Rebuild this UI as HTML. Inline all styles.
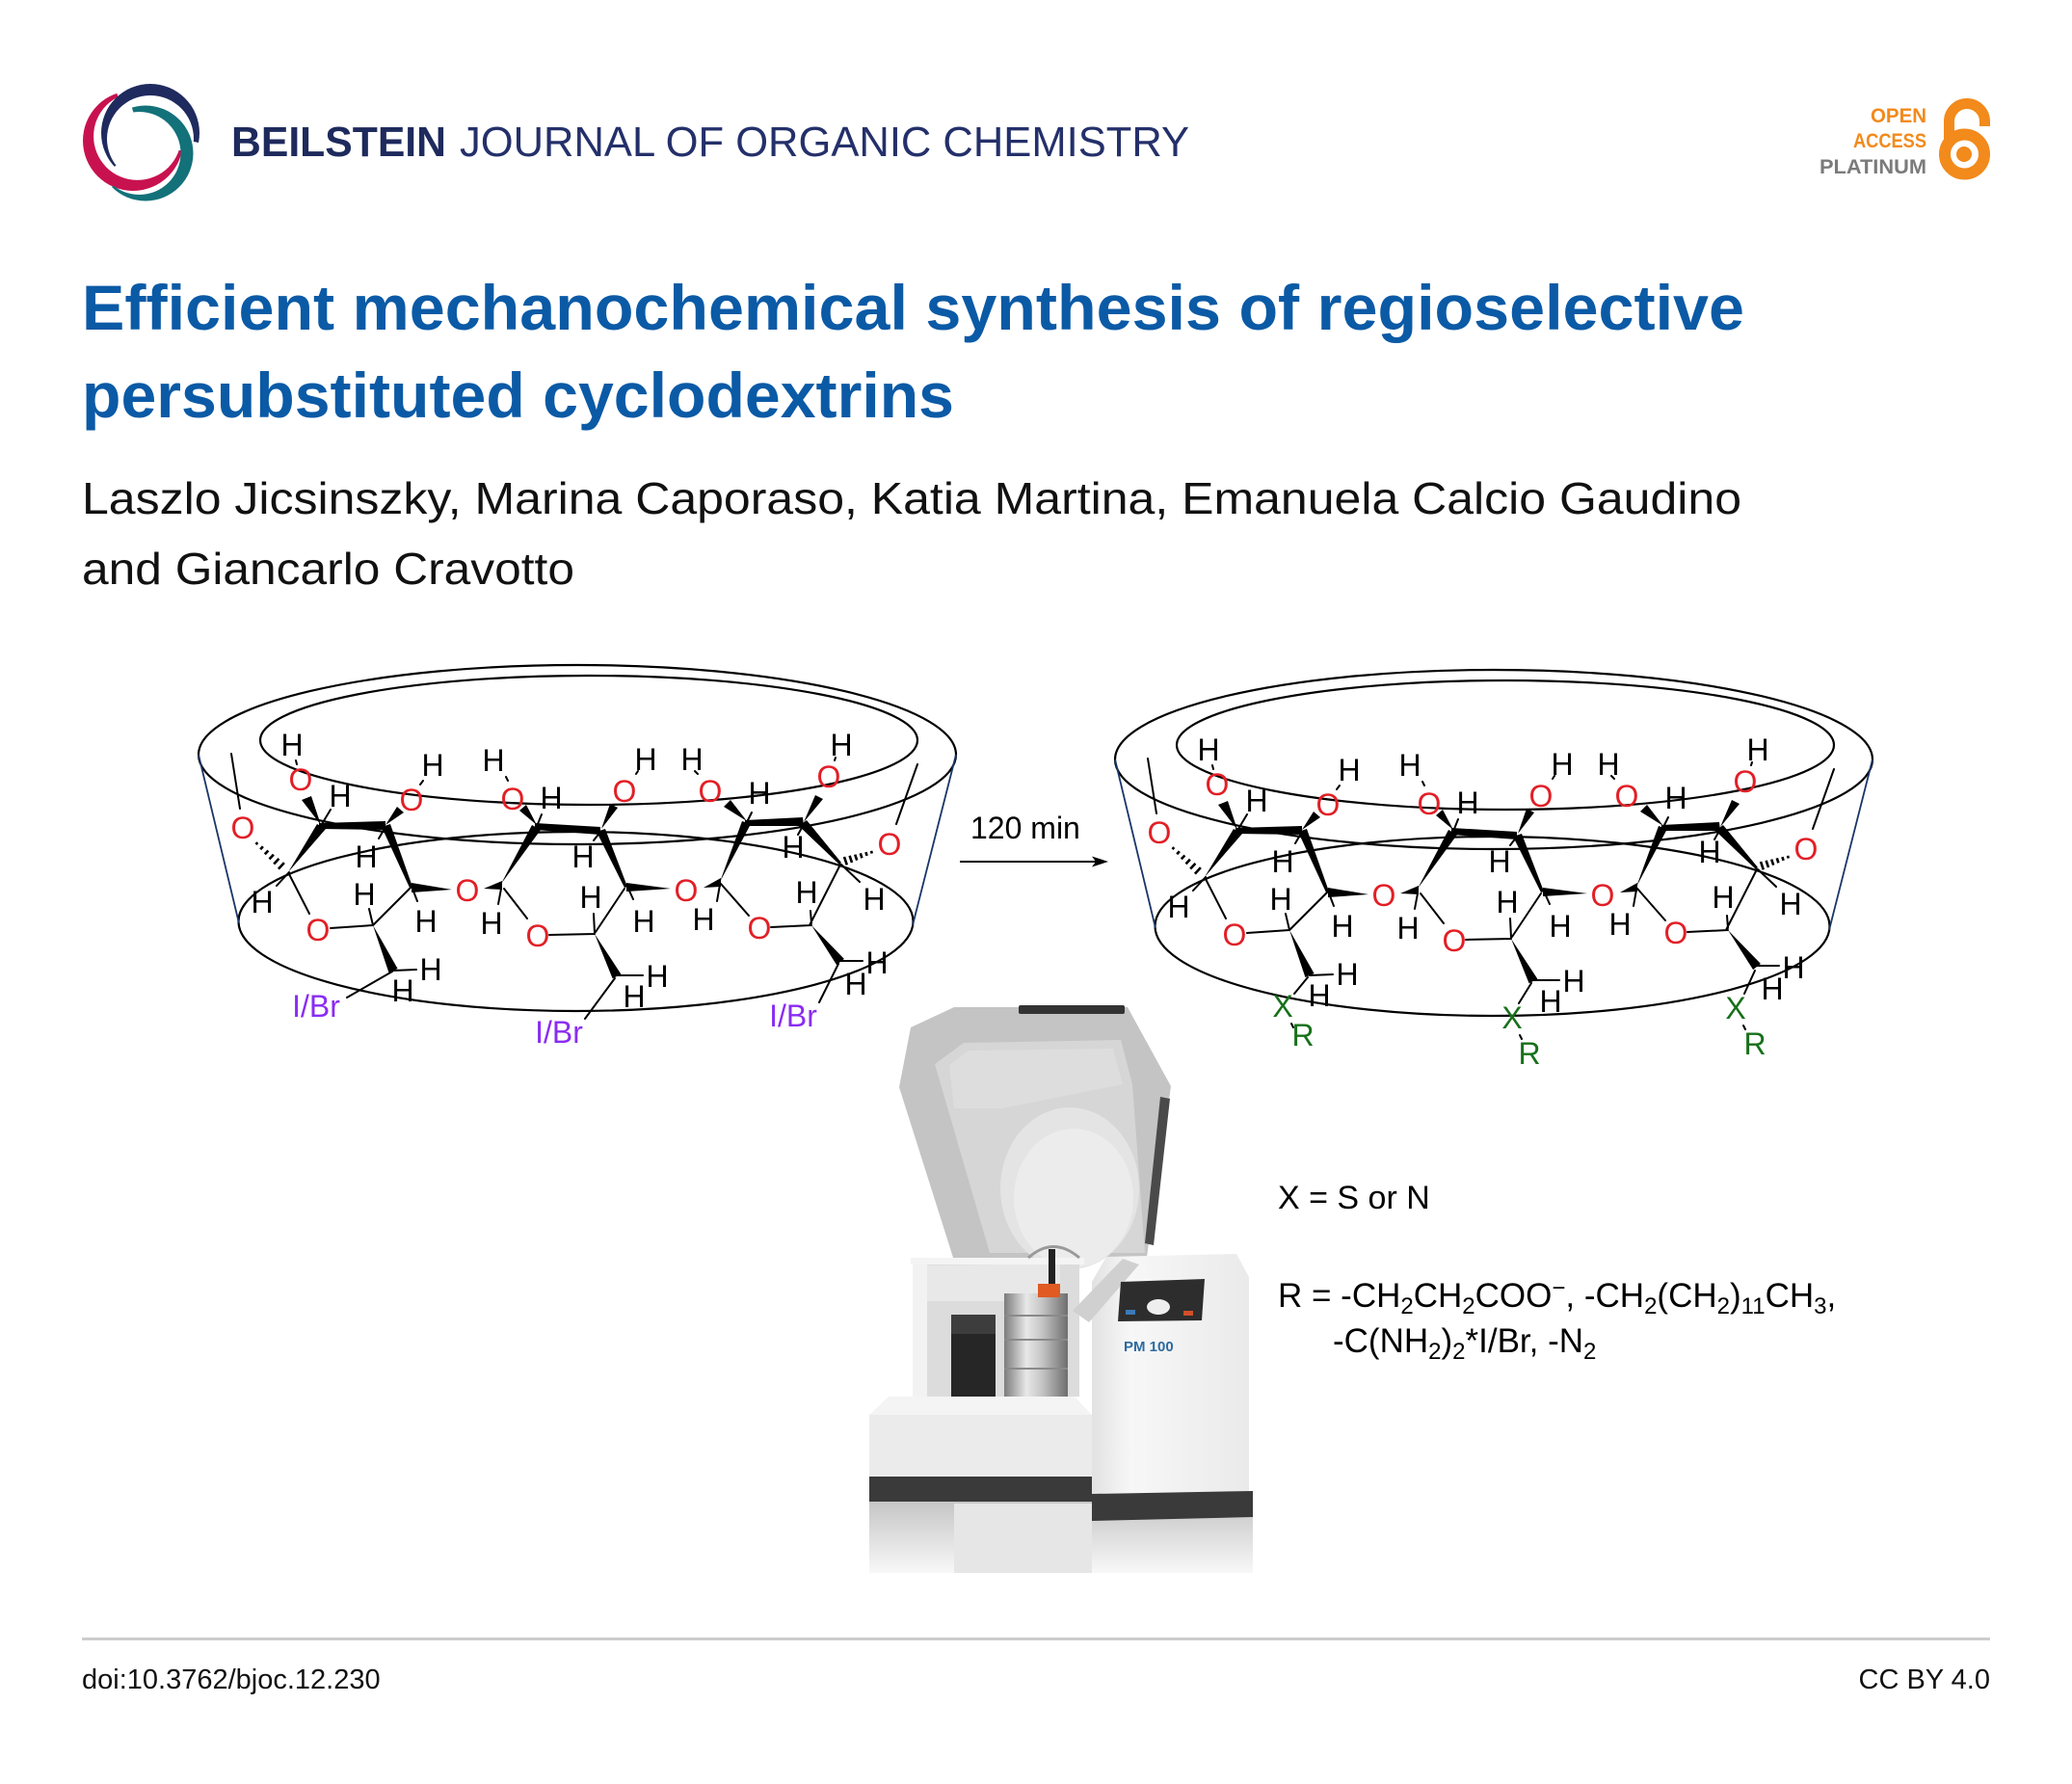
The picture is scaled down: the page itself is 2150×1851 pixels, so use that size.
<!DOCTYPE html>
<html>
<head>
<meta charset="utf-8">
<style>
html,body{margin:0;padding:0;background:#fff;}
svg{display:block;}
.t{font-family:"Liberation Sans",Arial,sans-serif;}
.h{font-family:"Liberation Sans",Arial,sans-serif;font-size:32px;text-anchor:middle;fill:#000;}
.o{font-family:"Liberation Sans",Arial,sans-serif;font-size:32px;text-anchor:middle;fill:#e21f26;}
.ib{font-family:"Liberation Sans",Arial,sans-serif;font-size:32px;text-anchor:middle;fill:#8a2cf2;}
.g{font-family:"Liberation Sans",Arial,sans-serif;font-size:32px;text-anchor:middle;fill:#17701a;}
.b{stroke:#000;stroke-width:2;fill:none;stroke-linecap:round;}
.hs{stroke:#000;stroke-width:2.6;fill:none;}
.el{stroke:#000;stroke-width:2.2;fill:none;}
.sd{stroke:#1a3668;stroke-width:1.8;fill:none;}
</style>
</head>
<body>
<svg width="2150" height="1851" viewBox="0 0 2150 1851" xmlns="http://www.w3.org/2000/svg">
<defs>
<clipPath id="cNavy"><polygon points="156,138 54,234 30,234 30,10 290,10 290,163 281,163"/></clipPath>
<clipPath id="cRed"><polygon points="138,146 84,-13 0,-13 0,290 290,290 270,173"/></clipPath>
<clipPath id="cTeal"><polygon points="151,159 109,18 300,18 300,300 37,273"/></clipPath>
<linearGradient id="jar" x1="0" x2="1" y1="0" y2="0">
<stop offset="0" stop-color="#7c7c7c"/><stop offset="0.35" stop-color="#e8e8e8"/><stop offset="0.6" stop-color="#c4c4c4"/><stop offset="1" stop-color="#6e6e6e"/>
</linearGradient>
<linearGradient id="refl" x1="0" x2="0" y1="0" y2="1">
<stop offset="0" stop-color="#c4c4c4"/><stop offset="1" stop-color="#f8f8f8"/>
</linearGradient>
<linearGradient id="cons" x1="0" x2="1" y1="0" y2="0">
<stop offset="0" stop-color="#e2e2e2"/><stop offset="0.25" stop-color="#f7f7f7"/><stop offset="1" stop-color="#eaeaea"/>
</linearGradient>
</defs>
<rect width="2150" height="1851" fill="#fff"/>

<!-- Logo -->
<path clip-path="url(#cRed)" fill="#c8124f" fill-rule="evenodd" d="M86,146 a52,52 0 1 0 104,0 a52,52 0 1 0 -104,0 Z M97.1,141.4 a45.5,45.5 0 1 0 91,0 a45.5,45.5 0 1 0 -91,0 Z"/>
<path clip-path="url(#cTeal)" fill="#13717a" fill-rule="evenodd" d="M101.5,159 a49.5,49.5 0 1 0 99,0 a49.5,49.5 0 1 0 -99,0 Z M101.5,159 a43,43 0 1 0 86,0 a43,43 0 1 0 -86,0 Z"/>
<path clip-path="url(#cNavy)" fill="#1f2a5e" fill-rule="evenodd" d="M105,138 a51,51 0 1 0 102,0 a51,51 0 1 0 -102,0 Z M111,144 a45,45 0 1 0 90,0 a45,45 0 1 0 -90,0 Z"/>

<!-- Journal name -->
<text class="t" x="240" y="162" font-size="44" font-weight="bold" fill="#1e2a5c" textLength="223" lengthAdjust="spacingAndGlyphs">BEILSTEIN</text>
<text class="t" x="477" y="162" font-size="44" fill="#24306a" textLength="757" lengthAdjust="spacingAndGlyphs">JOURNAL OF ORGANIC CHEMISTRY</text>

<!-- Open access badge -->
<text class="t" x="1999" y="127" font-size="21" font-weight="bold" fill="#f28a1c" text-anchor="end" textLength="58" lengthAdjust="spacingAndGlyphs">OPEN</text>
<text class="t" x="1999" y="153" font-size="21" font-weight="bold" fill="#f28a1c" text-anchor="end" textLength="76" lengthAdjust="spacingAndGlyphs">ACCESS</text>
<text class="t" x="1999" y="180" font-size="21" font-weight="bold" fill="#7b7b7b" text-anchor="end" textLength="111" lengthAdjust="spacingAndGlyphs">PLATINUM</text>
<path d="M2022.5,150 V126 A18.5,18.5 0 0 1 2059.5,126 V131" stroke="#f28a1c" stroke-width="11" fill="none"/>
<circle cx="2038.5" cy="160" r="20.5" stroke="#f28a1c" stroke-width="12" fill="none"/>
<circle cx="2038" cy="160" r="8" fill="#f28a1c"/>

<!-- Title -->
<text class="t" x="85" y="342" font-size="66" font-weight="bold" fill="#0b5aa6" textLength="1725" lengthAdjust="spacingAndGlyphs">Efficient mechanochemical synthesis of regioselective</text>
<text class="t" x="85" y="433" font-size="66" font-weight="bold" fill="#0b5aa6" textLength="905" lengthAdjust="spacingAndGlyphs">persubstituted cyclodextrins</text>

<!-- Authors -->
<text class="t" x="85" y="533" font-size="46" fill="#111" textLength="1722" lengthAdjust="spacingAndGlyphs">Laszlo Jicsinszky, Marina Caporaso, Katia Martina, Emanuela Calcio Gaudino</text>
<text class="t" x="85" y="606" font-size="46" fill="#111" textLength="511" lengthAdjust="spacingAndGlyphs">and Giancarlo Cravotto</text>

<!-- ===================== LEFT MOLECULE ===================== -->
<g id="mol1">
<ellipse class="el" cx="599" cy="783" rx="393" ry="93"/>
<ellipse class="el" cx="611" cy="768" rx="341" ry="67"/>
<ellipse class="el" cx="597.5" cy="956" rx="350" ry="93"/>
<path class="sd" d="M206,783 L248,958 M992,783 L947,960"/>
<path class="b" stroke-width="1.5" d="M240,782 L249,839 M930,855 L952,793"/>
<path class="b" d="M300,905 L287,919 M300,907 L321,948 M343,963 L387,960 M387,960 L383,943 M408,1007 L432,1006 M387,960 L427,920 M428,922 L433,935 M334,855 L343,840 M400,858 L393,870
M520,922 L517,938 M523,922 L547,953 M570,970 L617,969 M617,968 L616,948 M640,1012 L667,1012 M618,967 L648,922 M652,922 L657,933 M558,855 L562,845 M623,863 L616,872
M747,918 L744,935 M748,917 L777,950 M800,962 L842,960 M842,958 L841,945 M872,997 L895,997 M840,960 L872,897 M873,897 L892,915 M776,851 L780,843 M833,857 L828,866
M307,789 L308,793 M436,814 L439,810 M527,810 L525,806 M660,803 L662,800 M724,803 L721,800 M866,789 L867,786"/>
<path class="hs" d="M265.5,876.1 L267.3,874.1 M270.2,881.3 L272.9,878.3 M274.8,886.3 L278.4,882.5 M279.5,891.4 L283.9,886.7 M284.2,896.5 L289.4,890.9 M288.9,901.6 L294.9,895.1"/>
<path class="hs" d="M904.8,885.5 L904,882.9 M899.6,887.9 L898.4,884.1 M894.4,890.3 L892.8,885.3 M889.2,892.6 L887.2,886.6 M884,895 L881.6,887.8 M878.8,897.4 L876,889"/>
<g fill="#000">
<polygon points="387,960 412.6,1005 403.4,1009"/>
<polygon points="617,969 644.4,1010.7 635.6,1015.3"/>
<polygon points="842,960 875.9,994.9 868.1,1001.1"/>
<polygon points="427,916 427,926 469,923"/>
<polygon points="650,916 650,925 696,922"/>
<polygon points="502,922 521,914 521,923"/>
<polygon points="730,921 748,911 748,920"/>
<polygon points="299,905 329,855 338,860"/>
<polygon points="520,917 552,856 561,861"/>
<polygon points="747,915 770,852 779,855"/>
<polygon points="331,854 400,852 400,861 331,860"/>
<polygon points="555,854 623,858 623,866 555,861"/>
<polygon points="773,851 833,848 834,857 773,857"/>
<polygon points="396,858 405,855 428,920 425,921"/>
<polygon points="619,863 628,860 651,920 648,921"/>
<polygon points="829,857 837,851 873,895 871,897"/>
<polygon points="333,856 313,830 323,826"/>
<polygon points="557,856 539,841 546,835"/>
<polygon points="775,852 751,837 758,830"/>
<polygon points="400,856 412,837 419,843"/>
<polygon points="624,860 633,834 641,838"/>
<polygon points="834,853 846,825 854,829"/>
</g>
<text class="o" x="252" y="870">O</text>
<text class="o" x="312" y="820">O</text>
<text class="o" x="427" y="841">O</text>
<text class="o" x="485" y="935">O</text>
<text class="o" x="330" y="976">O</text>
<text class="o" x="532" y="840">O</text>
<text class="o" x="648" y="832">O</text>
<text class="o" x="712" y="935">O</text>
<text class="o" x="558" y="982">O</text>
<text class="o" x="737" y="832">O</text>
<text class="o" x="860" y="817">O</text>
<text class="o" x="788" y="974">O</text>
<text class="o" x="923" y="887">O</text>
<text class="h" x="303" y="784">H</text>
<text class="h" x="353" y="837">H</text>
<text class="h" x="380" y="900">H</text>
<text class="h" x="442" y="967">H</text>
<text class="h" x="272" y="947">H</text>
<text class="h" x="378" y="939">H</text>
<text class="h" x="447" y="1017">H</text>
<text class="h" x="418" y="1039">H</text>
<text class="h" x="449" y="805">H</text>
<text class="h" x="512" y="800">H</text>
<text class="h" x="572" y="839">H</text>
<text class="h" x="605" y="900">H</text>
<text class="h" x="668" y="967">H</text>
<text class="h" x="510" y="969">H</text>
<text class="h" x="613" y="942">H</text>
<text class="h" x="682" y="1024">H</text>
<text class="h" x="658" y="1045">H</text>
<text class="h" x="670" y="799">H</text>
<text class="h" x="718" y="799">H</text>
<text class="h" x="788" y="834">H</text>
<text class="h" x="823" y="890">H</text>
<text class="h" x="907" y="944">H</text>
<text class="h" x="730" y="965">H</text>
<text class="h" x="837" y="937">H</text>
<text class="h" x="910" y="1010">H</text>
<text class="h" x="888" y="1032">H</text>
<text class="h" x="873" y="784">H</text>
<path class="b" d="M407,1008 L360,1035 M638,1015 L607,1057 M870,1000 L850,1040"/>
<text class="ib" x="328" y="1055">I/Br</text>
<text class="ib" x="580" y="1082">I/Br</text>
<text class="ib" x="823" y="1065">I/Br</text>
</g>

<!-- Arrow -->
<text class="t" x="1007" y="870" font-size="32" fill="#000">120 min</text>
<line x1="996" y1="894" x2="1140" y2="894" stroke="#000" stroke-width="2"/>
<polygon points="1150,894 1133,888.5 1137,894 1133,899.5" fill="#000"/>

<!-- ===================== RIGHT MOLECULE ===================== -->
<g transform="translate(951,5)">
<ellipse class="el" cx="599" cy="783" rx="393" ry="93"/>
<ellipse class="el" cx="611" cy="768" rx="341" ry="67"/>
<ellipse class="el" cx="597.5" cy="956" rx="350" ry="93"/>
<path class="sd" d="M206,783 L248,958 M992,783 L947,960"/>
<path class="b" stroke-width="1.5" d="M240,782 L249,839 M930,855 L952,793"/>
<path class="b" d="M300,905 L287,919 M300,907 L321,948 M343,963 L387,960 M387,960 L383,943 M408,1007 L432,1006 M387,960 L427,920 M428,922 L433,935 M334,855 L343,840 M400,858 L393,870
M520,922 L517,938 M523,922 L547,953 M570,970 L617,969 M617,968 L616,948 M640,1012 L667,1012 M618,967 L648,922 M652,922 L657,933 M558,855 L562,845 M623,863 L616,872
M747,918 L744,935 M748,917 L777,950 M800,962 L842,960 M842,958 L841,945 M872,997 L895,997 M840,960 L872,897 M873,897 L892,915 M776,851 L780,843 M833,857 L828,866
M307,789 L308,793 M436,814 L439,810 M527,810 L525,806 M660,803 L662,800 M724,803 L721,800 M866,789 L867,786"/>
<path class="hs" d="M265.5,876.1 L267.3,874.1 M270.2,881.3 L272.9,878.3 M274.8,886.3 L278.4,882.5 M279.5,891.4 L283.9,886.7 M284.2,896.5 L289.4,890.9 M288.9,901.6 L294.9,895.1"/>
<path class="hs" d="M904.8,885.5 L904,882.9 M899.6,887.9 L898.4,884.1 M894.4,890.3 L892.8,885.3 M889.2,892.6 L887.2,886.6 M884,895 L881.6,887.8 M878.8,897.4 L876,889"/>
<g fill="#000">
<polygon points="387,960 412.6,1005 403.4,1009"/>
<polygon points="617,969 644.4,1010.7 635.6,1015.3"/>
<polygon points="842,960 875.9,994.9 868.1,1001.1"/>
<polygon points="427,916 427,926 469,923"/>
<polygon points="650,916 650,925 696,922"/>
<polygon points="502,922 521,914 521,923"/>
<polygon points="730,921 748,911 748,920"/>
<polygon points="299,905 329,855 338,860"/>
<polygon points="520,917 552,856 561,861"/>
<polygon points="747,915 770,852 779,855"/>
<polygon points="331,854 400,852 400,861 331,860"/>
<polygon points="555,854 623,858 623,866 555,861"/>
<polygon points="773,851 833,848 834,857 773,857"/>
<polygon points="396,858 405,855 428,920 425,921"/>
<polygon points="619,863 628,860 651,920 648,921"/>
<polygon points="829,857 837,851 873,895 871,897"/>
<polygon points="333,856 313,830 323,826"/>
<polygon points="557,856 539,841 546,835"/>
<polygon points="775,852 751,837 758,830"/>
<polygon points="400,856 412,837 419,843"/>
<polygon points="624,860 633,834 641,838"/>
<polygon points="834,853 846,825 854,829"/>
</g>
<text class="o" x="252" y="870">O</text>
<text class="o" x="312" y="820">O</text>
<text class="o" x="427" y="841">O</text>
<text class="o" x="485" y="935">O</text>
<text class="o" x="330" y="976">O</text>
<text class="o" x="532" y="840">O</text>
<text class="o" x="648" y="832">O</text>
<text class="o" x="712" y="935">O</text>
<text class="o" x="558" y="982">O</text>
<text class="o" x="737" y="832">O</text>
<text class="o" x="860" y="817">O</text>
<text class="o" x="788" y="974">O</text>
<text class="o" x="923" y="887">O</text>
<text class="h" x="303" y="784">H</text>
<text class="h" x="353" y="837">H</text>
<text class="h" x="380" y="900">H</text>
<text class="h" x="442" y="967">H</text>
<text class="h" x="272" y="947">H</text>
<text class="h" x="378" y="939">H</text>
<text class="h" x="447" y="1017">H</text>
<text class="h" x="418" y="1039">H</text>
<text class="h" x="449" y="805">H</text>
<text class="h" x="512" y="800">H</text>
<text class="h" x="572" y="839">H</text>
<text class="h" x="605" y="900">H</text>
<text class="h" x="668" y="967">H</text>
<text class="h" x="510" y="969">H</text>
<text class="h" x="613" y="942">H</text>
<text class="h" x="682" y="1024">H</text>
<text class="h" x="658" y="1045">H</text>
<text class="h" x="670" y="799">H</text>
<text class="h" x="718" y="799">H</text>
<text class="h" x="788" y="834">H</text>
<text class="h" x="823" y="890">H</text>
<text class="h" x="907" y="944">H</text>
<text class="h" x="730" y="965">H</text>
<text class="h" x="837" y="937">H</text>
<text class="h" x="910" y="1010">H</text>
<text class="h" x="888" y="1032">H</text>
<text class="h" x="873" y="784">H</text>
<path class="b" d="M406,1009 L392,1026 M638,1015 L625,1036 M870,1002 L859,1026"/>
<path class="b" stroke-width="1.4" d="M389,1057 L391,1061 M626,1069 L628,1073 M858,1059 L860,1063"/>
<text class="g" x="380" y="1050">X</text>
<text class="g" x="401" y="1080">R</text>
<text class="g" x="618" y="1062">X</text>
<text class="g" x="636" y="1099">R</text>
<text class="g" x="850" y="1052">X</text>
<text class="g" x="870" y="1089">R</text>
</g>

<!-- ===================== MILL ===================== -->
<!-- lid -->
<polygon fill="#c4c4c4" points="933,1128 945,1066 990,1045 1170,1045 1215,1127 1190,1304 990,1308"/>
<polygon fill="#d6d6d6" points="970,1104 1000,1082 1163,1079 1175,1125 1188,1300 1027,1300"/>
<polygon fill="#dddddd" points="985,1105 1005,1090 1155,1088 1165,1125 1040,1150 990,1150"/>
<ellipse cx="1110" cy="1233" rx="72" ry="84" fill="#e4e4e4"/>
<ellipse cx="1114" cy="1243" rx="62" ry="72" fill="#ececec"/>
<rect x="1057" y="1043" width="110" height="9" rx="2" fill="#333"/>
<polygon fill="#4a4a4a" points="1204,1138 1214,1140 1197,1292 1188,1290"/>
<!-- chamber -->
<polygon fill="#dcdcdc" points="947,1311 1120,1308 1120,1449 947,1449"/>
<polygon fill="#e8e8e8" points="962,1313 1100,1311 1100,1350 962,1350"/>
<rect x="947" y="1311" width="15" height="138" fill="#f2f2f2"/>
<rect x="945" y="1305" width="180" height="7" fill="#f4f4f4"/>
<!-- contents -->
<ellipse cx="1045" cy="1458" rx="66" ry="9" fill="#222"/>
<rect x="987" y="1364" width="46" height="96" fill="#262626"/>
<rect x="987" y="1364" width="46" height="20" fill="#3d3d3d"/>
<rect x="1042" y="1342" width="66" height="114" fill="url(#jar)"/>
<path d="M1042,1365 H1108 M1042,1390 H1108 M1042,1420 H1108" stroke="#8a8a8a" stroke-width="2"/>
<rect x="1077" y="1332" width="23" height="14" fill="#e05a22"/>
<rect x="1088" y="1296" width="7" height="36" fill="#222"/>
<path d="M1067,1305 Q1093,1282 1120,1305" stroke="#9a9a9a" stroke-width="3" fill="none"/>
<!-- front base -->
<polygon fill="#f4f4f4" points="902,1468 922,1449 1115,1449 1133,1468"/>
<rect x="902" y="1468" width="231" height="64" fill="#ebebeb"/>
<!-- console -->
<polygon fill="url(#cons)" points="1133,1330 1148,1304 1283,1301 1296,1325 1296,1548 1133,1552"/>
<polygon fill="#d0d0d0" points="1113,1360 1165,1306 1182,1312 1130,1372"/>
<polygon fill="#2d2d2d" points="1163,1330 1250,1327 1247,1370 1160,1371"/>
<ellipse cx="1202" cy="1356" rx="12" ry="8" fill="#eeeeee"/>
<rect x="1168" y="1359" width="10" height="5" fill="#3a7ab8"/>
<rect x="1228" y="1360" width="10" height="5" fill="#d0502a"/>
<text class="t" x="1166" y="1402" font-size="15" font-weight="bold" fill="#2c6aa0">PM 100</text>
<!-- bottom band and reflection -->
<rect x="902" y="1556" width="398" height="76" fill="url(#refl)"/>
<polygon fill="#3a3a3a" points="902,1532 1133,1532 1133,1550 1300,1547 1300,1574 1133,1578 1133,1558 902,1558"/>
<rect x="990" y="1560" width="143" height="72" fill="#e6e6e6"/>

<!-- Legend -->
<text class="t" x="1326" y="1254" font-size="34" fill="#000">X = S or N</text>
<text class="t" x="1326" y="1356" font-size="35" fill="#000">R = -CH<tspan font-size="24" dy="7">2</tspan><tspan dy="-7">CH</tspan><tspan font-size="24" dy="7">2</tspan><tspan dy="-7">COO</tspan><tspan font-size="24" dy="-12">−</tspan><tspan dy="12">, -CH</tspan><tspan font-size="24" dy="7">2</tspan><tspan dy="-7">(CH</tspan><tspan font-size="24" dy="7">2</tspan><tspan dy="-7">)</tspan><tspan font-size="24" dy="7">11</tspan><tspan dy="-7">CH</tspan><tspan font-size="24" dy="7">3</tspan><tspan dy="-7">,</tspan></text>
<text class="t" x="1383" y="1403" font-size="35" fill="#000">-C(NH<tspan font-size="24" dy="7">2</tspan><tspan dy="-7">)</tspan><tspan font-size="24" dy="7">2</tspan><tspan dy="-7">*I/Br, -N</tspan><tspan font-size="24" dy="7">2</tspan></text>

<!-- Footer -->
<rect x="85" y="1699" width="1980" height="3" fill="#cccccc"/>
<text class="t" x="85" y="1752" font-size="29" fill="#111">doi:10.3762/bjoc.12.230</text>
<text class="t" x="2065" y="1752" font-size="29" fill="#111" text-anchor="end">CC BY 4.0</text>
</svg>
</body>
</html>
